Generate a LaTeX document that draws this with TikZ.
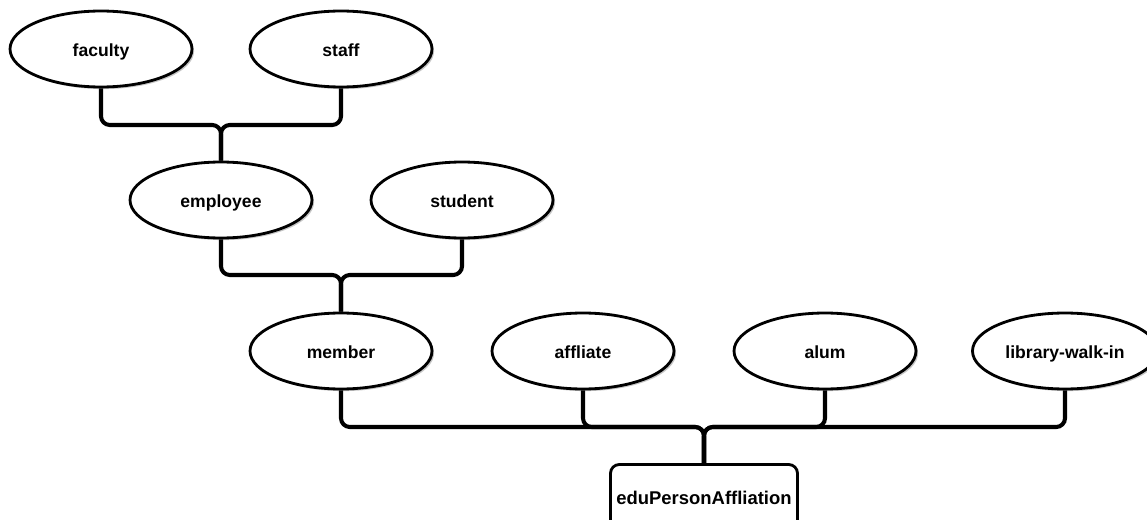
\documentclass[tikz,border=0pt]{standalone}
\usepackage{fontspec}
\setmainfont{Liberation Sans}
\usetikzlibrary{shapes.geometric,shadows}

\begin{document}
\begin{tikzpicture}[x=0.02cm,y=-0.02cm,
    attr/.style={ellipse,draw,line width=1.6pt,fill=white,minimum width=3.64cm,minimum height=1.52cm,
      font=\bfseries,text height=8.5pt,text depth=0pt,
      drop shadow={shadow xshift=1.2pt,shadow yshift=-1.2pt,fill=gray!45,opacity=1}},
    root/.style={rectangle,draw,line width=1.6pt,rounded corners=5pt,fill=white,minimum width=3.64cm,minimum height=1.3cm,
      font=\fontsize{10.5}{12}\bfseries,text height=8.5pt,text depth=0pt},
    link/.style={line width=2.3pt,rounded corners=5pt}]
      \useasboundingbox (0,0) rectangle (1147,520);
      % Nodos
      \node[attr] (faculty)  at (101,49)  {faculty};
      \node[attr] (staff)    at (341,49)  {staff};
      \node[attr] (employee) at (221,200) {employee};
      \node[attr] (student)  at (462,200) {student};
      \node[attr] (member)   at (341,351) {member};
      \node[attr] (affliate) at (583,351) {affliate};
      \node[attr] (alum)     at (825,351) {alum};
      \node[attr] (walkin)   at (1065,351){library-walk-in};
      \node[root] (epa)      at (704,497) {eduPersonAffliation};
      % Uniones
      \coordinate (j1) at (221,125);
      \coordinate (j2) at (341,275);
      \coordinate (j3) at (704,427);
      % Aristas
      \draw[link] (faculty.south) |- (j1) -- (employee.north);
      \draw[link] (staff.south) |- (j1) -- (employee.north);
      \draw[link] (employee.south) |- (j2) -- (member.north);
      \draw[link] (student.south) |- (j2) -- (member.north);
      \draw[link] (member.south) |- (j3) -- (epa.north);
      \draw[link] (affliate.south) |- (j3) -- (epa.north);
      \draw[link] (alum.south) |- (j3) -- (epa.north);
      \draw[link] (walkin.south) |- (j3) -- (epa.north);
\end{tikzpicture}
\end{document}
